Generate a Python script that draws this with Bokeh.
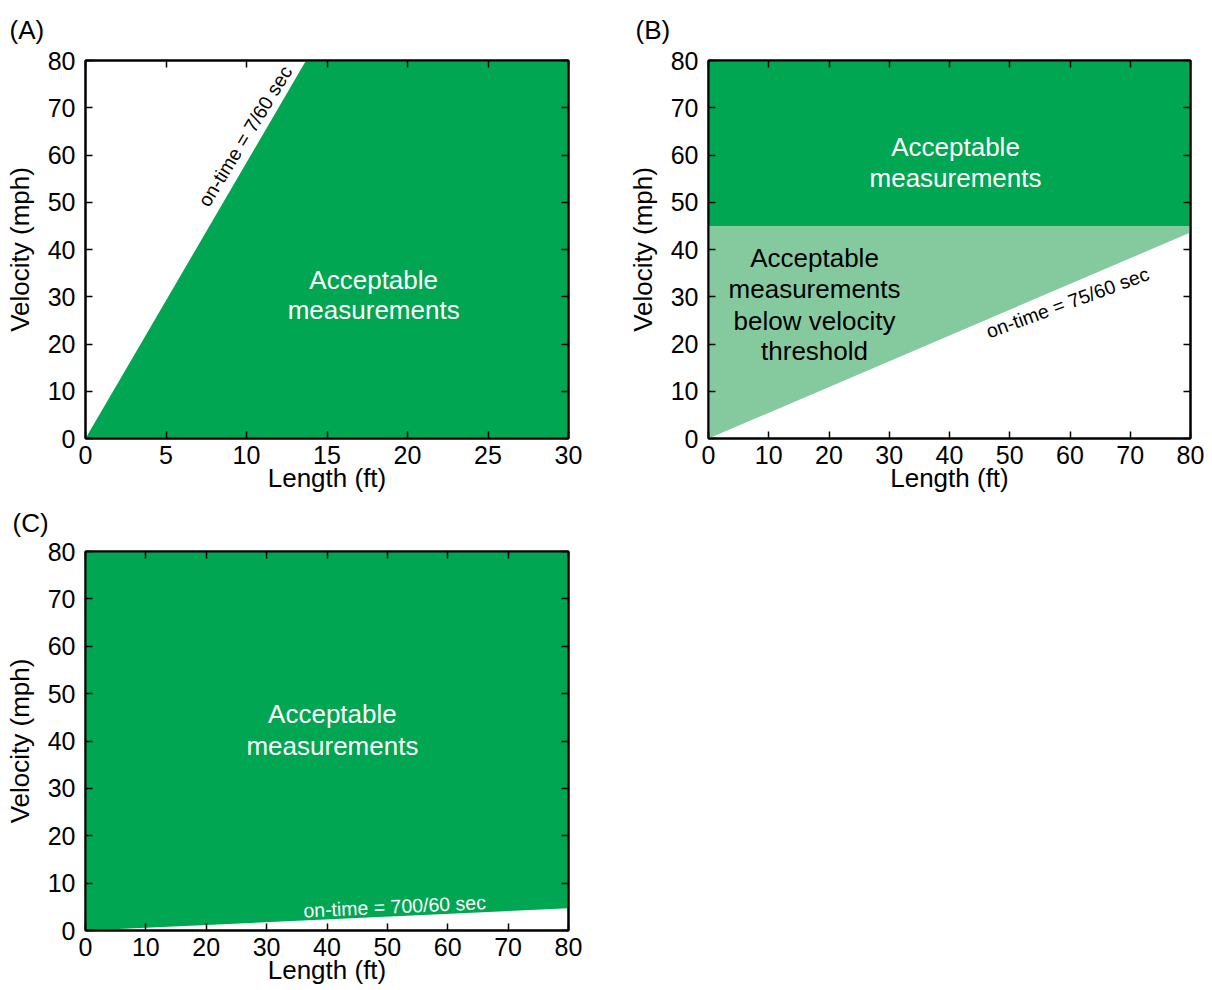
import math
from bokeh.plotting import figure
from bokeh.layouts import column, row
from bokeh.models import LinearAxis, FixedTicker, CustomJSTickFormatter, Range1d
from bokeh.core.properties import value
from bokeh.embed import file_html
from bokeh.resources import INLINE

# ---------------- data ----------------
velocity_range = [0, 80]
a_length_range = [0, 30]
bc_length_range = [0, 80]
a_x_ticks = [0, 5, 10, 15, 20, 25, 30]
bc_x_ticks = [0, 10, 20, 30, 40, 50, 60, 70, 80]
y_ticks = [0, 10, 20, 30, 40, 50, 60, 70, 80]

# boundary of acceptable region (length ft, velocity mph)
a_boundary_length = [0, 13.7, 30]
a_boundary_velocity = [0, 80, 80]
b_boundary_length = [0, 80]
b_boundary_velocity = [0, 43.6]
b_velocity_threshold = 45
c_boundary_length = [0, 80]
c_boundary_velocity = [0, 4.7]

a_on_time = "on-time = 7/60 sec"
b_on_time = "on-time = 75/60 sec"
c_on_time = "on-time = 700/60 sec"
acc_lines = ["Acceptable", "measurements"]
below_lines = ["Acceptable", "measurements", "below velocity", "threshold"]

DARK = "#00A651"
LIGHT = "#85CA9F"
FONT = "Liberation Sans"


def make_fig(label, xr, xticks, width, height, bl, br, bt, bb, t_offset, t_standoff):
    p = figure(width=width, height=height,
               x_range=Range1d(*xr), y_range=Range1d(*velocity_range),
               output_backend="svg", toolbar_location=None,
               min_border_left=bl, min_border_right=br,
               min_border_top=bt, min_border_bottom=bb,
               x_axis_label="Length (ft)", y_axis_label="Velocity (mph)")
    p.title.text = label
    p.title.align = "left"
    p.title.vertical_align = "top"
    p.title.offset = t_offset
    p.title.standoff = t_standoff
    p.title.text_font = FONT
    p.title.text_font_size = "26px"
    p.title.text_font_style = "normal"
    p.title.text_color = "black"
    p.xgrid.visible = False
    p.ygrid.visible = False
    p.outline_line_color = "black"
    p.outline_line_width = 2
    bottom = p.below[0]
    left = p.left[0]
    bottom.ticker = FixedTicker(ticks=xticks)
    left.ticker = FixedTicker(ticks=y_ticks)
    top = LinearAxis(ticker=FixedTicker(ticks=xticks),
                     formatter=CustomJSTickFormatter(code="return ''"))
    right = LinearAxis(ticker=FixedTicker(ticks=y_ticks),
                       formatter=CustomJSTickFormatter(code="return ''"))
    p.add_layout(top, "above")
    p.add_layout(right, "right")
    for ax in [bottom, left, top, right]:
        ax.axis_line_color = "black"
        ax.axis_line_width = 2
        ax.major_tick_in = 7
        ax.major_tick_out = 0
        ax.major_tick_line_width = 1.5
        ax.minor_tick_line_color = None
        ax.major_label_text_font = FONT
        ax.major_label_text_font_size = "25px"
        ax.major_label_text_color = "black"
        ax.major_label_standoff = 10
        ax.axis_label_text_font = FONT
        ax.axis_label_text_font_size = "26px"
        ax.axis_label_text_font_style = "normal"
        ax.axis_label_text_color = "black"
    top.major_label_standoff = 0
    right.major_label_standoff = 0
    bottom.axis_label_standoff = -4
    bottom.major_label_standoff = 7
    left.axis_label_standoff = 10
    return p


def screen_angle(p_w, p_h, xr, dx, dy):
    # angle in degrees of a data segment on screen
    return math.degrees(math.atan2(dy * p_h / (velocity_range[1] - velocity_range[0]),
                                   dx * p_w / (xr[1] - xr[0])))


# ---------------- Panel A ----------------
pA = make_fig("(A)", a_length_range, a_x_ticks, 624, 496, 85, 56, 60, 58, -76, 28)
pA.varea(x=a_boundary_length, y1=[0, 0, 0], y2=a_boundary_velocity, fill_color=DARK)
angA = screen_angle(483, 378, a_length_range, a_boundary_length[1], a_boundary_velocity[1]) - 1.3
pA.text(x=[9.9], y=[64.0], text=[a_on_time], angle=angA, angle_units="deg",
        text_font=value(FONT), text_font_size="19.5px", text_color="black",
        text_align="center", text_baseline="middle")
pA.text(x=[17.9, 17.9], y=[33.65, 27.1], text=acc_lines,
        text_font=value(FONT), text_font_size="26px", text_color="white",
        text_align="center", text_baseline="middle")

# ---------------- Panel B ----------------
pB = make_fig("(B)", bc_length_range, bc_x_ticks, 580, 496, 80, 14, 60, 58, -73, 28)
pB.varea(x=bc_length_range, y1=[b_velocity_threshold] * 2, y2=[velocity_range[1]] * 2,
         fill_color=DARK)
pB.varea(x=b_boundary_length, y1=b_boundary_velocity, y2=[b_velocity_threshold] * 2,
         fill_color=LIGHT)
angB = screen_angle(482, 378, bc_length_range, b_boundary_length[1], b_boundary_velocity[1]) - 3
pB.text(x=[59.6], y=[28.8], text=[b_on_time], angle=angB, angle_units="deg",
        text_font=value(FONT), text_font_size="19.5px", text_color="black",
        text_align="center", text_baseline="middle")
pB.text(x=[41.0, 41.0], y=[61.6, 55.2], text=acc_lines,
        text_font=value(FONT), text_font_size="26px", text_color="white",
        text_align="center", text_baseline="middle")
pB.text(x=[17.6] * 4, y=[38.3, 31.7, 24.9, 18.6], text=below_lines,
        text_font=value(FONT), text_font_size="26px", text_color="black",
        text_align="center", text_baseline="middle")

# ---------------- Panel C ----------------
pC = make_fig("(C)", bc_length_range, bc_x_ticks, 624, 494, 85, 56, 55, 60, -73, 23)
pC.varea(x=c_boundary_length, y1=c_boundary_velocity, y2=[velocity_range[1]] * 2,
         fill_color=DARK)
angC = screen_angle(483, 379, bc_length_range, c_boundary_length[1], c_boundary_velocity[1])
pC.text(x=[51.2], y=[5.1], text=[c_on_time], angle=angC, angle_units="deg",
        text_font=value(FONT), text_font_size="19.5px", text_color="white",
        text_align="center", text_baseline="middle")
pC.text(x=[40.9, 40.9], y=[45.8, 39.05], text=acc_lines,
        text_font=value(FONT), text_font_size="26px", text_color="white",
        text_align="center", text_baseline="middle")

layout = column(row(pA, pB), pC)
open("out.html", "w").write(file_html(layout, INLINE))
